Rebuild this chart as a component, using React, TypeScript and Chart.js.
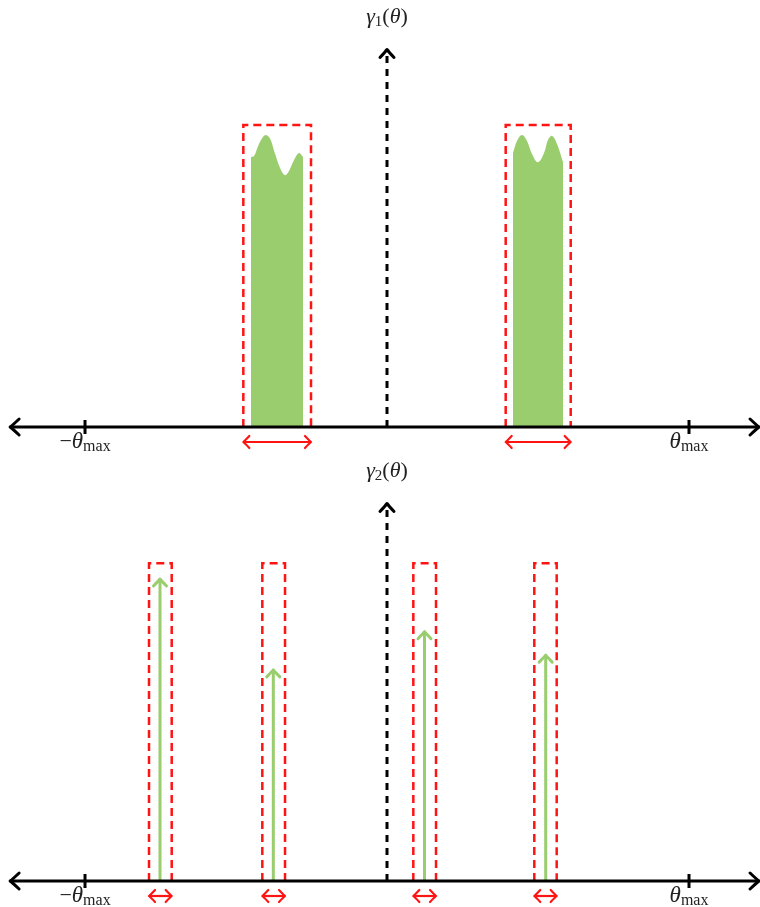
import React, { useEffect, useRef } from "react";
import { Chart, registerables } from "chart.js";
Chart.register(...registerables);

// ---------- data (θ in units of θmax, γ in units of the window height) ----------
const TICKS = [-1, 1];
const TICK_SIGNS = ["−", ""];

// γ1: two continuous bands
const BAND1_THETA = [-0.4503, -0.4404, -0.4272, -0.4106, -0.4007, -0.3875, -0.3708, -0.351, -0.3377, -0.3245, -0.3079, -0.2914, -0.2781];
const BAND1_GAMMA = [0.894, 0.897, 0.93, 0.96, 0.967, 0.955, 0.905, 0.851, 0.834, 0.848, 0.884, 0.907, 0.894];
const BAND2_THETA = [0.4172, 0.4305, 0.447, 0.4636, 0.4801, 0.5, 0.5199, 0.5331, 0.5464, 0.5629, 0.5828];
const BAND2_GAMMA = [0.907, 0.947, 0.967, 0.947, 0.904, 0.877, 0.907, 0.95, 0.964, 0.937, 0.877];
const TOP_BOX_LEFT = [-0.4758, 0.393];
const TOP_BOX_RIGHT = [-0.2517, 0.6083];
const TOP_BOX_HEIGHT = [1.0, 1.0];

// γ2: four Dirac components
const BOT_BOX_LEFT = [-0.7881, -0.4129, 0.0871, 0.4877];
const BOT_BOX_RIGHT = [-0.7129, -0.3377, 0.1623, 0.5619];
const BOT_BOX_HEIGHT = [1.052, 1.052, 1.052, 1.052];
const DIRAC_THETA = [-0.7517, -0.3765, 0.1242, 0.5255];
const DIRAC_GAMMA = [1.0, 0.699, 0.8255, 0.748];

// axis extents
const X_MIN = -1.2815;
const X_MAX = 1.2351;
const AXIS_LEFT = -1.248;
const AXIS_RIGHT = 1.232;
const Y_AXIS_TOP = 1.25;
const UNIT_PX = 302;

const GREEN = "rgb(153,205,110)";
const RED = "rgb(255,20,20)";
const SERIF = "'Liberation Serif', 'DejaVu Serif', serif";

type Part = { t: string; font: string; dy: number };

function drawMath(ctx: CanvasRenderingContext2D, parts: Part[], cx: number, baseline: number) {
  let total = 0;
  const widths = parts.map((p) => {
    ctx.font = p.font;
    const w = ctx.measureText(p.t).width;
    total += w;
    return w;
  });
  let x = cx - total / 2;
  ctx.fillStyle = "#222";
  ctx.textBaseline = "alphabetic";
  ctx.textAlign = "left";
  parts.forEach((p, i) => {
    ctx.font = p.font;
    ctx.fillText(p.t, x, baseline + p.dy);
    x += widths[i];
  });
}

function arrowHead(
  ctx: CanvasRenderingContext2D,
  tx: number,
  ty: number,
  dx: number,
  dy: number,
  len: number,
  half: number,
  color: string,
  lw: number
) {
  const nx = -dy;
  const ny = dx;
  const bx = tx - dx * len;
  const by = ty - dy * len;
  ctx.save();
  ctx.strokeStyle = color;
  ctx.lineWidth = lw;
  ctx.lineCap = "round";
  ctx.lineJoin = "round";
  ctx.setLineDash([]);
  ctx.beginPath();
  ctx.moveTo(bx + nx * half, by + ny * half);
  ctx.quadraticCurveTo(tx - dx * len * 0.3 + nx * half * 0.25, ty - dy * len * 0.3 + ny * half * 0.25, tx, ty);
  ctx.quadraticCurveTo(tx - dx * len * 0.3 - nx * half * 0.25, ty - dy * len * 0.3 - ny * half * 0.25, bx - nx * half, by - ny * half);
  ctx.stroke();
  ctx.restore();
}

function makeAxesPlugin(sub: string, boxL: number[], boxR: number[], diracX: number[] | null, diracY: number[] | null) {
  return {
    id: "axes" + sub,
    afterDatasetsDraw(chart: any) {
      const ctx: CanvasRenderingContext2D = chart.ctx;
      const xs = chart.scales.x;
      const ys = chart.scales.y;
      const y0 = ys.getPixelForValue(0);
      const xc = xs.getPixelForValue(0);

      if (diracX && diracY) {
        diracX.forEach((t, i) => {
          arrowHead(ctx, xs.getPixelForValue(t), ys.getPixelForValue(diracY[i]), 0, -1, 7, 6.5, GREEN, 3);
        });
      }

      // x axis
      const xl = xs.getPixelForValue(AXIS_LEFT);
      const xr = xs.getPixelForValue(AXIS_RIGHT);
      ctx.save();
      ctx.strokeStyle = "#000";
      ctx.lineWidth = 3;
      ctx.setLineDash([]);
      ctx.beginPath();
      ctx.moveTo(xl + 1, y0);
      ctx.lineTo(xr - 1, y0);
      ctx.stroke();
      ctx.restore();
      arrowHead(ctx, xl, y0, -1, 0, 9, 8, "#000", 3);
      arrowHead(ctx, xr, y0, 1, 0, 9, 8, "#000", 3);

      // ticks
      TICKS.forEach((t, i) => {
        const px = xs.getPixelForValue(t);
        ctx.save();
        ctx.strokeStyle = "#000";
        ctx.lineWidth = 3;
        ctx.beginPath();
        ctx.moveTo(px, y0 - 7);
        ctx.lineTo(px, y0 + 7);
        ctx.stroke();
        ctx.restore();
        drawMath(
          ctx,
          [
            ...(TICK_SIGNS[i] ? [{ t: TICK_SIGNS[i], font: `22px ${SERIF}`, dy: 0 }] : []),
            { t: "θ", font: `italic 23px ${SERIF}`, dy: 0 },
            { t: "max", font: `16px ${SERIF}`, dy: 3 },
          ],
          px,
          y0 + 21
        );
      });

      // y axis (dashed)
      const yt = ys.getPixelForValue(Y_AXIS_TOP);
      ctx.save();
      ctx.strokeStyle = "#000";
      ctx.lineWidth = 3;
      ctx.setLineDash([7, 6]);
      ctx.beginPath();
      ctx.moveTo(xc, y0);
      ctx.lineTo(xc, yt + 2);
      ctx.stroke();
      ctx.restore();
      arrowHead(ctx, xc, yt, 0, -1, 8, 7, "#000", 3);

      // label
      drawMath(
        ctx,
        [
          { t: "γ", font: `italic 22px ${SERIF}`, dy: 0 },
          { t: sub, font: `15px ${SERIF}`, dy: 3 },
          { t: "(", font: `22px ${SERIF}`, dy: 0 },
          { t: "θ", font: `italic 22px ${SERIF}`, dy: 0 },
          { t: ")", font: `22px ${SERIF}`, dy: 0 },
        ],
        xc,
        yt - 27
      );

      // red width arrows
      boxL.forEach((l, i) => {
        const a = xs.getPixelForValue(l);
        const b = xs.getPixelForValue(boxR[i]);
        const yy = y0 + 15;
        ctx.save();
        ctx.strokeStyle = RED;
        ctx.lineWidth = 2.2;
        ctx.setLineDash([]);
        ctx.beginPath();
        ctx.moveTo(a + 1, yy);
        ctx.lineTo(b - 1, yy);
        ctx.stroke();
        ctx.restore();
        arrowHead(ctx, a, yy, -1, 0, 6, 6, RED, 2.2);
        arrowHead(ctx, b, yy, 1, 0, 6, 6, RED, 2.2);
      });
    },
  };
}

function boxDatasets(L: number[], R: number[], H: number[]) {
  return L.map((l, i) => ({
    data: [
      { x: l, y: 0 },
      { x: l, y: H[i] },
      { x: R[i], y: H[i] },
      { x: R[i], y: 0 },
    ],
    borderColor: RED,
    borderWidth: 2.5,
    borderDash: [8, 5],
    fill: false,
    pointRadius: 0,
    tension: 0,
  }));
}

function Panel({ height, sub, datasets, boxL, boxR, diracX, diracY }: any) {
  const ref = useRef<HTMLCanvasElement | null>(null);
  useEffect(() => {
    if (!ref.current) return;
    const axisPx = 427;
    const chart = new Chart(ref.current, {
      type: "line",
      data: { datasets },
      options: {
        animation: false,
        responsive: false,
        devicePixelRatio: 1,
        events: [],
        layout: { padding: 0 },
        plugins: { legend: { display: false }, tooltip: { enabled: false } },
        scales: {
          x: { type: "linear", display: false, min: X_MIN, max: X_MAX },
          y: {
            type: "linear",
            display: false,
            min: -(height - axisPx) / UNIT_PX,
            max: axisPx / UNIT_PX,
          },
        },
      },
      plugins: [makeAxesPlugin(sub, boxL, boxR, diracX, diracY)],
    } as any);
    return () => chart.destroy();
  }, []);
  return <canvas ref={ref} width={760} height={height} style={{ display: "block", width: 760, height }} />;
}

export default function App() {
  const topSets = [
    {
      data: BAND1_THETA.map((t, i) => ({ x: t, y: BAND1_GAMMA[i] })),
      borderWidth: 0,
      backgroundColor: GREEN,
      borderColor: GREEN,
      fill: "origin",
      pointRadius: 0,
      tension: 0.4,
    },
    {
      data: BAND2_THETA.map((t, i) => ({ x: t, y: BAND2_GAMMA[i] })),
      borderWidth: 0,
      backgroundColor: GREEN,
      borderColor: GREEN,
      fill: "origin",
      pointRadius: 0,
      tension: 0.4,
    },
    ...boxDatasets(TOP_BOX_LEFT, TOP_BOX_RIGHT, TOP_BOX_HEIGHT),
  ];
  const botSets = [
    ...DIRAC_THETA.map((t, i) => ({
      data: [
        { x: t, y: 0 },
        { x: t, y: DIRAC_GAMMA[i] - 1 / UNIT_PX },
      ],
      borderColor: GREEN,
      borderWidth: 3,
      fill: false,
      pointRadius: 0,
      tension: 0,
    })),
    ...boxDatasets(BOT_BOX_LEFT, BOT_BOX_RIGHT, BOT_BOX_HEIGHT),
  ];
  return (
    <div style={{ position: "absolute", left: 0, top: 0, width: 760, height: 907, background: "#fff", overflow: "hidden" }}>
      <Panel height={454} sub="1" datasets={topSets} boxL={TOP_BOX_LEFT} boxR={TOP_BOX_RIGHT} diracX={null} diracY={null} />
      <Panel height={453} sub="2" datasets={botSets} boxL={BOT_BOX_LEFT} boxR={BOT_BOX_RIGHT} diracX={DIRAC_THETA} diracY={DIRAC_GAMMA} />
    </div>
  );
}
